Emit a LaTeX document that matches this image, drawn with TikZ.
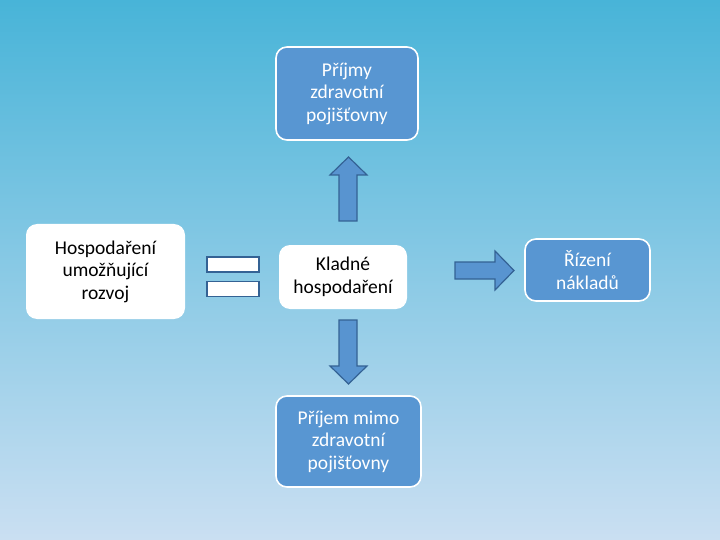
\documentclass[tikz,border=0pt]{standalone}
\usepackage{fontspec}
\setmainfont{Carlito}
\definecolor{bgtop}{RGB}{72,180,216}
\definecolor{bgbot}{RGB}{202,223,242}
\definecolor{boxblue}{RGB}{88,150,210}
\definecolor{arrblue}{RGB}{88,148,208}
\definecolor{arredge}{RGB}{52,98,148}
\begin{document}
\begin{tikzpicture}[x=1pt,y=-1pt,
  box/.style={draw=white, line width=1.6pt, rounded corners=11pt, align=center,
    font=\fontsize{19.5}{22.5}\selectfont, inner sep=0pt},
  bluebox/.style={box, fill=boxblue, text=white},
  whitebox/.style={box, fill=white, text=black},
  blockarrow/.style={fill=arrblue, draw=arredge, line width=1.2pt, line join=miter},
  eqbar/.style={fill=white, draw=arredge, line width=1.2pt}]
\shade[top color=bgtop, bottom color=bgbot] (0,0) rectangle (720,540);
\useasboundingbox (0,0) rectangle (720,540);

\node[bluebox, minimum width=142pt, minimum height=93pt] (top) at (347,93.5) {Příjmy\\zdravotní\\pojišťovny};
\node[whitebox, minimum width=159pt, minimum height=95pt, draw=none] (left) at (105.5,271.5) {Hospodaření\\umožňující\\rozvoj};
\node[whitebox, minimum width=128pt, minimum height=64pt, draw=none] (mid) at (343,277) {Kladné\\hospodaření};
\node[bluebox, minimum width=125pt, minimum height=62pt] (right) at (587.5,270) {Řízení\\nákladů};
\node[bluebox, minimum width=145pt, minimum height=91pt] (bot) at (348.5,441.5) {Příjem mimo\\zdravotní\\pojišťovny};

% equals sign
\node[eqbar, minimum width=52pt, minimum height=15pt, inner sep=0pt] (eq1) at (233,264.5) {};
\node[eqbar, minimum width=52pt, minimum height=15pt, inner sep=0pt] (eq2) at (233,289) {};

% up arrow
\draw[blockarrow] (339,221) -- (339,175) -- (330,175) -- (348.5,157) -- (367,175) -- (357,175) -- (357,221) -- cycle;
% down arrow
\draw[blockarrow] (339,320) -- (339,366) -- (330,366) -- (348.5,384) -- (367,366) -- (357,366) -- (357,320) -- cycle;
% right arrow
\draw[blockarrow] (455,262) -- (495,262) -- (495,251) -- (514,270.5) -- (495,290) -- (495,279) -- (455,279) -- cycle;
\end{tikzpicture}
\end{document}
